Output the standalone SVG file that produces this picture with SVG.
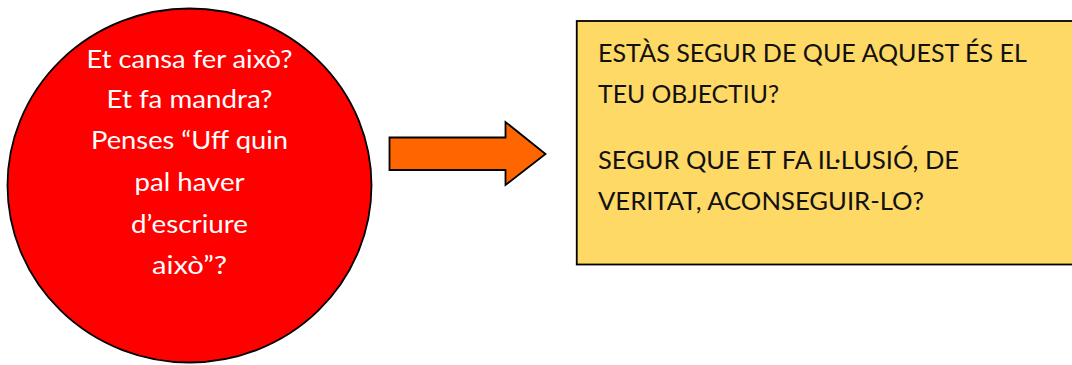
<svg xmlns="http://www.w3.org/2000/svg" width="1072" height="365" viewBox="0 0 1072 365">
<style>
text{font-family:"Lato","Open Sans","Liberation Sans",sans-serif;font-size:25.5px}
.c{fill:#fff;text-anchor:middle}
.b{fill:#111}
.s{stroke:#000;stroke-width:1.8}
</style>
<rect width="1072" height="365" fill="#fff"/>
<g id="circle-node">
<ellipse class="s" cx="189.5" cy="185.5" rx="182" ry="177" fill="#f00"/>
<text class="c" x="189.5" y="67.5" textLength="206" lengthAdjust="spacingAndGlyphs">Et cansa fer això?</text>
<text class="c" x="189.5" y="108" textLength="166" lengthAdjust="spacingAndGlyphs">Et fa mandra?</text>
<text class="c" x="189.5" y="149" textLength="197" lengthAdjust="spacingAndGlyphs">Penses “Uff quin</text>
<text class="c" x="189.5" y="191" textLength="110" lengthAdjust="spacingAndGlyphs">pal haver</text>
<text class="c" x="189.5" y="232.5" textLength="117" lengthAdjust="spacingAndGlyphs">d’escriure</text>
<text class="c" x="189.5" y="274" textLength="75" lengthAdjust="spacingAndGlyphs">això”?</text>
</g>
<g id="connectors">
<path class="s" d="M389.5 137.5H505.5V122L545.5 154L505.5 185V170H389.5Z" fill="#f60"/>
</g>
<g id="box-node">
<rect class="s" x="576.75" y="21" width="500" height="243.5" fill="#ffd966"/>
<text class="b" x="598" y="61.5" textLength="429" lengthAdjust="spacingAndGlyphs">ESTÀS SEGUR DE QUE AQUEST ÉS EL</text>
<text class="b" x="598" y="103" textLength="181" lengthAdjust="spacingAndGlyphs">TEU OBJECTIU?</text>
<text class="b" x="598" y="169" textLength="361" lengthAdjust="spacingAndGlyphs">SEGUR QUE ET FA IL·LUSIÓ, DE</text>
<text class="b" x="598" y="210" textLength="326" lengthAdjust="spacingAndGlyphs">VERITAT, ACONSEGUIR-LO?</text>
</g>
</svg>
